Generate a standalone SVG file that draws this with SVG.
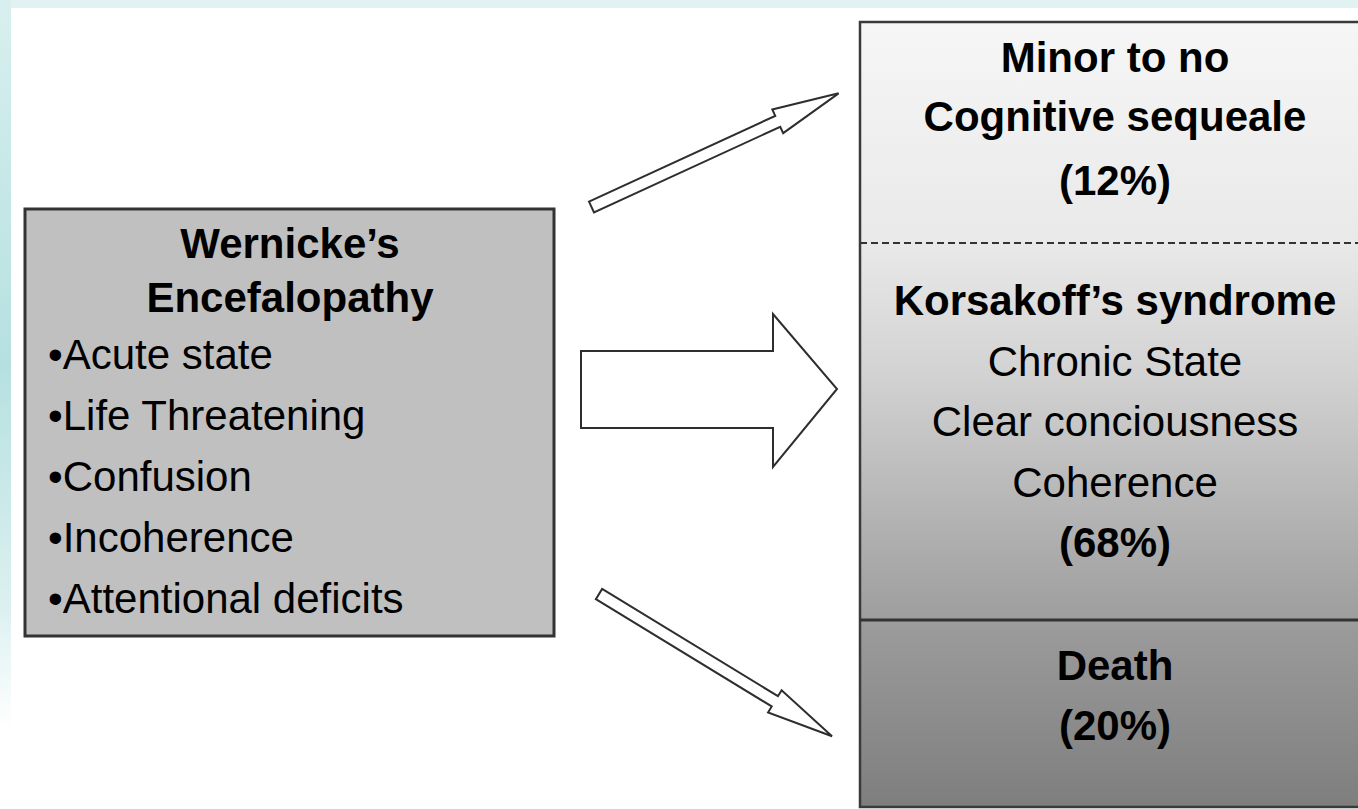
<svg xmlns="http://www.w3.org/2000/svg" width="1358" height="809" viewBox="0 0 1358 809">
<style>
  text { font-family: "Liberation Sans", Arial, sans-serif; fill: #000; }
  .b { font-weight: bold; }
  .c { text-anchor: middle; }
  .l42 { font-size: 42px; }
  .r42 { font-size: 42px; }
  .arrow { fill: #fff; stroke: #2e2e2e; stroke-width: 2; stroke-linejoin: miter; }
</style>
<defs>
  <linearGradient id="leftStrip" x1="0" y1="0" x2="0" y2="1">
    <stop offset="0" stop-color="#d8efef"/>
    <stop offset="0.45" stop-color="#b6e0e0"/>
    <stop offset="0.75" stop-color="#dcf0f0"/>
    <stop offset="0.9" stop-color="#ffffff"/>
  </linearGradient>
  <linearGradient id="rightFill" gradientUnits="userSpaceOnUse" x1="0" y1="22" x2="0" y2="807">
    <stop offset="0" stop-color="#f6f6f6"/>
    <stop offset="0.28" stop-color="#e9e9e9"/>
    <stop offset="0.45" stop-color="#d2d2d2"/>
    <stop offset="0.62" stop-color="#b5b5b5"/>
    <stop offset="0.76" stop-color="#9e9e9e"/>
    <stop offset="0.77" stop-color="#9b9b9b"/>
    <stop offset="1" stop-color="#7e7e7e"/>
  </linearGradient>
</defs>

<rect x="0" y="0" width="1358" height="809" fill="#ffffff"/>
<rect x="0" y="0" width="1358" height="8" fill="#e2f2f2"/>
<rect x="0" y="0" width="11" height="809" fill="url(#leftStrip)"/>

<g id="wernicke">
  <rect x="25" y="209" width="529" height="427" fill="#c0c0c0" stroke="#333" stroke-width="3"/>
  <text class="b c l42" x="290" y="258">Wernicke’s</text>
  <text class="b c l42" x="290" y="312">Encefalopathy</text>
  <text class="l42" x="48" y="369">•Acute state</text>
  <text class="l42" x="48" y="430">•Life Threatening</text>
  <text class="l42" x="48" y="491">•Confusion</text>
  <text class="l42" x="48" y="552">•Incoherence</text>
  <text class="l42" x="48" y="613">•Attentional deficits</text>
</g>

<g id="outcomes">
  <rect x="860" y="22" width="512" height="785" fill="url(#rightFill)" stroke="#3a3a3a" stroke-width="2.5"/>
  <line x1="860" y1="243" x2="1358" y2="243" stroke="#333" stroke-width="2" stroke-dasharray="7,4"/>
  <line x1="860" y1="620" x2="1358" y2="620" stroke="#333" stroke-width="3"/>
</g>

<g id="minor">
  <text class="b c r42" x="1115" y="72">Minor to no</text>
  <text class="b c r42" x="1115" y="131">Cognitive sequeale</text>
  <text class="b c r42" x="1115" y="195">(12%)</text>
</g>

<g id="korsakoff">
  <text class="b c r42" x="1115" y="315">Korsakoff’s syndrome</text>
  <text class="c r42" x="1115" y="376">Chronic State</text>
  <text class="c r42" x="1115" y="436">Clear conciousness</text>
  <text class="c r42" x="1115" y="497">Coherence</text>
  <text class="b c r42" x="1115" y="557">(68%)</text>
</g>

<g id="death">
  <text class="b c r42" x="1115" y="680">Death</text>
  <text class="b c r42" x="1115" y="740">(20%)</text>
</g>

<g id="connectors">
  <path class="arrow" d="M581,351 L773,351 L773,314 L837,389 L773,467 L773,428 L581,428 Z"/>
  <path class="arrow" transform="translate(591.5,207) rotate(-24.7)" d="M0,-6 L205,-6 L205,-13 L272,0 L205,13 L205,6 L0,6 Z"/>
  <path class="arrow" transform="translate(599,594) rotate(31.4)" d="M0,-6 L206,-6 L206,-13 L273,0 L206,13 L206,6 L0,6 Z"/>
</g>
</svg>
